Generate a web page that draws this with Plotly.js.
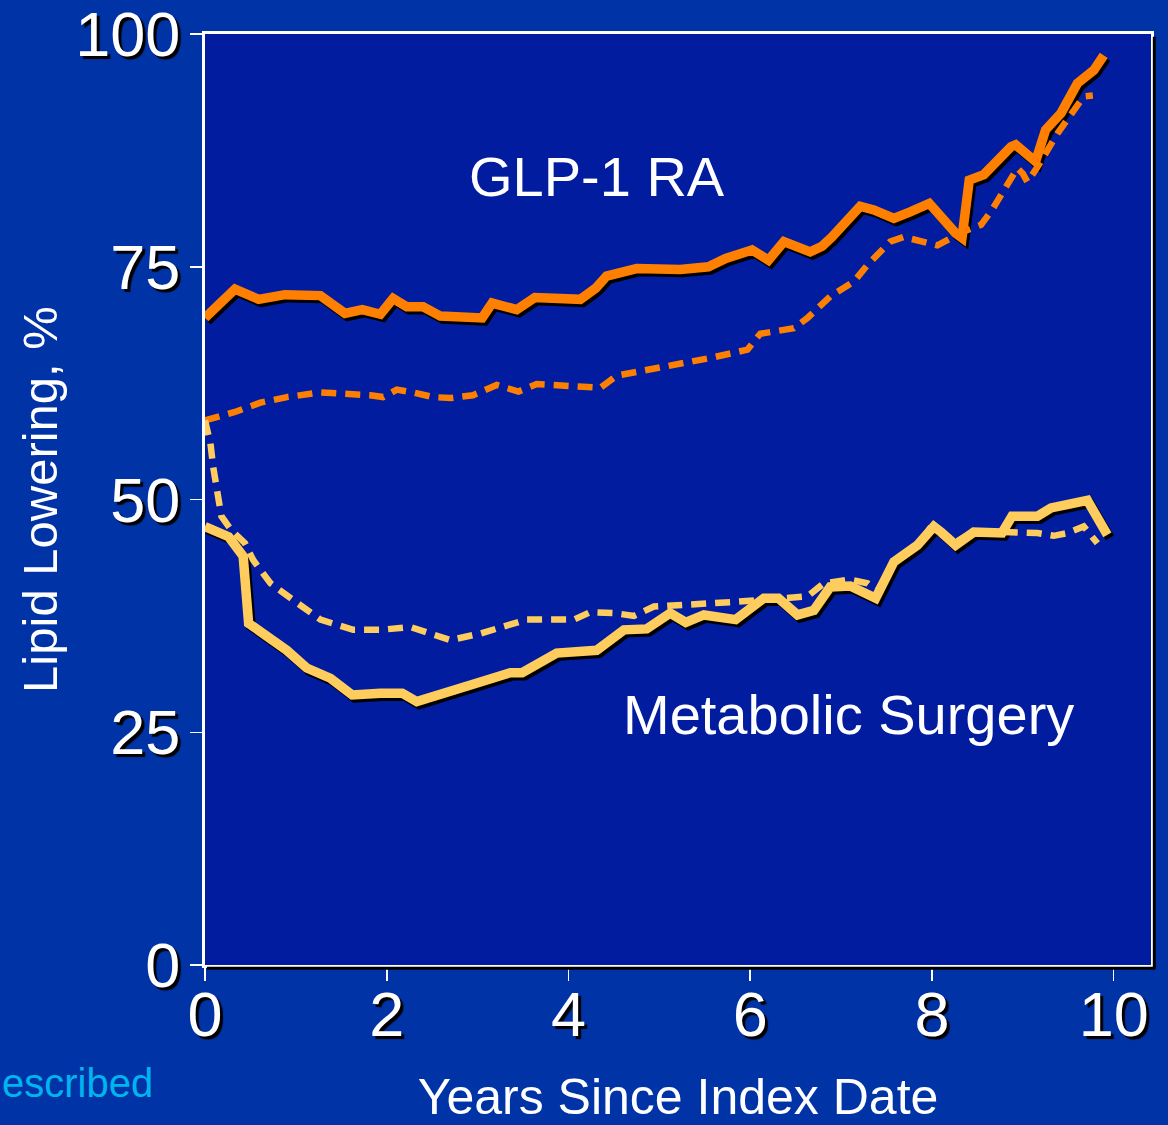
<!DOCTYPE html>
<html>
<head>
<meta charset="utf-8">
<script src="https://cdn.plot.ly/plotly-3.0.1.min.js"></script>
<style>
  html, body { margin: 0; padding: 0; background: #0033a6; }
  #chart { width: 1168px; height: 1125px; }
</style>
</head>
<body>
<div id="chart"></div>
<script>
// ---- Data ----
// GLP-1 RA, solid line
const glpSolidX = [0, 0.33, 0.59, 0.88, 1.27, 1.54, 1.73, 1.93, 2.07, 2.22, 2.40, 2.59, 3.05, 3.16, 3.43, 3.63, 4.13, 4.30, 4.42, 4.75, 5.23, 5.54, 5.73, 6.02, 6.20, 6.37, 6.66, 6.79, 6.90, 7.21, 7.36, 7.58, 7.76, 7.97, 8.26, 8.33, 8.41, 8.57, 8.87, 8.92, 9.14, 9.25, 9.42, 9.60, 9.78, 9.89];
const glpSolidY = [69.5, 72.6, 71.5, 72.0, 71.9, 70.0, 70.4, 69.9, 71.6, 70.7, 70.7, 69.7, 69.5, 71.1, 70.4, 71.7, 71.5, 72.7, 74.0, 74.8, 74.7, 75.0, 75.9, 76.8, 75.7, 77.7, 76.6, 77.2, 78.2, 81.5, 81.1, 80.2, 80.9, 81.8, 78.6, 78.1, 84.3, 84.9, 87.9, 88.1, 86.3, 89.7, 91.5, 94.7, 96.1, 97.7];

// GLP-1 RA, dashed line
const glpDashX = [0, 0.33, 0.61, 0.90, 1.27, 1.63, 1.82, 1.96, 2.11, 2.29, 2.51, 2.70, 2.95, 3.21, 3.45, 3.65, 4.13, 4.35, 4.53, 4.86, 5.23, 5.38, 5.56, 5.97, 6.11, 6.48, 6.63, 6.88, 7.14, 7.29, 7.54, 7.69, 7.98, 8.06, 8.35, 8.54, 8.66, 8.77, 8.87, 8.94, 9.00, 9.05, 9.16, 9.27, 9.38, 9.67, 9.77];
const glpDashY = [58.5, 59.4, 60.4, 61.0, 61.5, 61.4, 61.2, 61.0, 61.8, 61.5, 61.0, 60.9, 61.2, 62.3, 61.6, 62.4, 62.2, 62.0, 63.3, 63.9, 64.6, 64.7, 65.2, 66.1, 67.8, 68.4, 69.5, 71.8, 73.4, 75.2, 77.7, 78.2, 77.5, 77.3, 78.8, 79.5, 81.1, 82.9, 84.3, 85.6, 85.0, 84.1, 85.7, 87.5, 89.3, 93.3, 93.4];

// Metabolic surgery, solid line
const msSolidX = [0, 0.26, 0.42, 0.48, 0.90, 1.12, 1.38, 1.62, 1.93, 2.17, 2.33, 2.66, 3.03, 3.36, 3.49, 3.87, 4.31, 4.61, 4.86, 5.12, 5.29, 5.49, 5.84, 6.15, 6.31, 6.52, 6.70, 6.88, 7.10, 7.38, 7.58, 7.84, 8.02, 8.10, 8.26, 8.46, 8.77, 8.88, 9.16, 9.31, 9.53, 9.71, 9.93];
const msSolidY = [47.1, 46.0, 43.9, 36.7, 33.8, 31.9, 30.8, 29.0, 29.2, 29.2, 28.3, 29.2, 30.4, 31.4, 31.4, 33.5, 33.8, 36.0, 36.1, 37.8, 36.8, 37.6, 37.1, 39.4, 39.4, 37.6, 38.1, 40.6, 40.7, 39.4, 43.3, 45.1, 47.1, 46.5, 45.1, 46.5, 46.4, 48.2, 48.2, 49.1, 49.6, 49.9, 46.2];

// Metabolic surgery, dashed line
const msDashX = [0, 0.06, 0.09, 0.15, 0.18, 0.29, 0.44, 0.53, 0.66, 0.72, 0.97, 1.27, 1.63, 1.93, 2.26, 2.70, 3.03, 3.54, 4.06, 4.24, 4.50, 4.72, 4.94, 5.34, 5.82, 6.37, 6.63, 6.81, 7.10, 7.29, 7.40, 7.58, 7.84, 8.00, 8.26, 8.46, 8.79, 9.16, 9.34, 9.49, 9.67, 9.82];
const msDashY = [58.5, 56.0, 53.5, 50.3, 48.2, 46.7, 45.3, 43.5, 41.7, 41.0, 39.2, 37.1, 36.0, 36.0, 36.3, 34.9, 35.6, 37.1, 37.1, 37.9, 37.8, 37.5, 38.5, 38.8, 39.0, 39.4, 39.6, 41.0, 41.4, 41.0, 40.2, 43.2, 45.0, 47.2, 45.4, 46.6, 46.5, 46.4, 46.1, 46.4, 47.1, 45.3];

const xTickVals = [0, 2, 4, 6, 8, 10];
const yTickVals = [0, 25, 50, 75, 100];

const xTitle = "Years Since Index Date";
const yTitle = "Lipid Lowering, %";
const labelGLP = "GLP-1 RA";
const labelMS = "Metabolic Surgery";
const footText = "escribed";

// ---- Styles ----
const ORANGE = "#ff8000";
const YELLOW = "#ffcc5e";
const SOLID_W = 9.5;
const DASH_W = 6.5;
const DASH = "15px,9px";

const series = [
  {x: glpDashX, y: glpDashY, color: ORANGE, dashed: true},
  {x: msDashX, y: msDashY, color: YELLOW, dashed: true},
  {x: glpSolidX, y: glpSolidY, color: ORANGE, dashed: false},
  {x: msSolidX, y: msSolidY, color: YELLOW, dashed: false}
];

const traces = [];
// shadow traces on base axes (range shifted to offset them a few px)
series.forEach(s => {
  if (!s.dashed) {
    traces.push({
      x: s.x, y: s.y, type: "scatter", mode: "lines",
      xaxis: "x", yaxis: "y", hoverinfo: "skip", showlegend: false,
      line: {color: "#000000", width: SOLID_W, shape: "linear"}
    });
  }
});
// main traces on overlay axes
series.forEach(s => {
  traces.push({
    x: s.x, y: s.y, type: "scatter", mode: "lines",
    xaxis: "x2", yaxis: "y2", showlegend: false,
    line: {color: s.color, width: s.dashed ? DASH_W : SOLID_W, dash: s.dashed ? DASH : "solid"}
  });
});

const XMAX = 10.41;
const pxPerX = 946 / XMAX;
const pxPerY = 931 / 100;
const shX = 2.5, shY = 3;

const tickFont = {family: "Liberation Sans Narrow, Arial Narrow, Liberation Sans, sans-serif", size: 63, color: "#ffffff", shadow: "3px 3px 1px #000000"};

const layout = {
  width: 1168, height: 1125,
  margin: {l: 205, r: 17, t: 34, b: 160, pad: 0},
  paper_bgcolor: "#0033a6",
  plot_bgcolor: "#011c9e",
  showlegend: false,
  xaxis: {
    range: [0 - shX / pxPerX, XMAX - shX / pxPerX],
    showticklabels: false, ticks: "", showline: false, showgrid: false, zeroline: false, fixedrange: true
  },
  yaxis: {
    range: [0 + shY / pxPerY, 100 + shY / pxPerY],
    showticklabels: false, ticks: "", showline: false, showgrid: false, zeroline: false, fixedrange: true
  },
  xaxis2: {
    overlaying: "x", side: "bottom", anchor: "y2",
    range: [0, XMAX],
    tickvals: xTickVals, ticktext: xTickVals.map(String),
    ticks: "outside", ticklen: 13, tickwidth: 1.5, tickcolor: "#ffffff",
    tickfont: tickFont, ticklabelstandoff: -21, ticklabeloverflow: "allow",
    showline: true, linecolor: "#ffffff", linewidth: 3, mirror: true,
    showgrid: false, zeroline: false,
    title: {text: xTitle, standoff: 57, font: {family: "Liberation Sans, Arial, sans-serif", size: 50, color: "#ffffff"}}
  },
  yaxis2: {
    overlaying: "y", side: "left", anchor: "x2",
    range: [0, 100],
    tickvals: yTickVals, ticktext: yTickVals.map(String),
    ticks: "outside", ticklen: 12, tickwidth: 1.5, tickcolor: "#ffffff",
    tickfont: tickFont, ticklabelstandoff: -3, ticklabeloverflow: "allow",
    showline: true, linecolor: "#ffffff", linewidth: 3, mirror: true,
    showgrid: false, zeroline: false,
    title: {text: yTitle, standoff: 3, font: {family: "Liberation Sans, Arial, sans-serif", size: 49, color: "#ffffff"}}
  },
  shapes: [
    {type: "line", xref: "paper", yref: "paper", x0: 1.0035, x1: 1.0035, y0: -0.004, y1: 0.997, line: {color: "#000000", width: 3}},
    {type: "line", xref: "paper", yref: "paper", x0: 0.002, x1: 1.0045, y0: -0.0035, y1: -0.0035, line: {color: "#000000", width: 3}}
  ],
  annotations: [
    {text: labelGLP, xref: "x2", yref: "y2", x: 4.31, y: 84.7, showarrow: false,
     font: {family: "Liberation Sans, Arial, sans-serif", size: 56, color: "#ffffff"}},
    {text: labelMS, xref: "x2", yref: "y2", x: 7.08, y: 26.9, showarrow: false,
     font: {family: "Liberation Sans, Arial, sans-serif", size: 56, color: "#ffffff"}},
    {text: footText, xref: "paper", yref: "paper", x: -0.2167, y: -0.127, xanchor: "left", yanchor: "middle", showarrow: false,
     font: {family: "Liberation Sans, Arial, sans-serif", size: 40, color: "#00b4f0"}}
  ]
};

Plotly.newPlot("chart", traces, layout, {displayModeBar: false, staticPlot: true});
</script>
</body>
</html>
